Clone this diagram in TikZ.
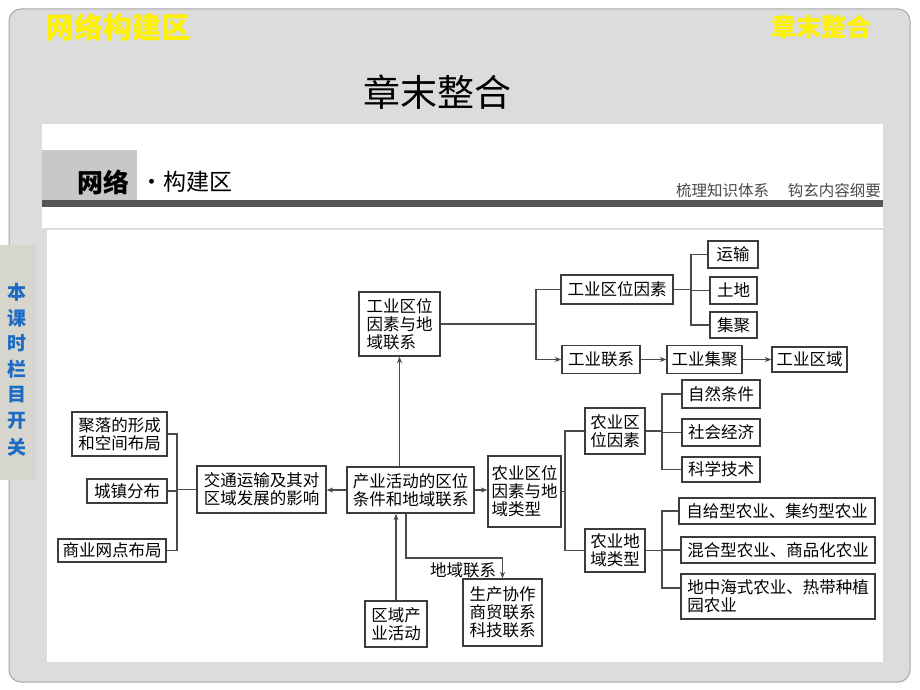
\documentclass[tikz,border=0pt]{standalone}
\usepackage{fontspec}
\setmainfont{Noto Sans CJK SC}
\usetikzlibrary{arrows.meta}
\definecolor{slidebg}{HTML}{DCDCDC}
\definecolor{slideedge}{HTML}{A8A8A8}
\definecolor{tabbg}{HTML}{D6D6CE}
\definecolor{tabtext}{HTML}{1E6BC4}
\definecolor{hdrbox}{HTML}{C8C8C8}
\definecolor{hdrbar}{HTML}{555555}
\definecolor{boxline}{HTML}{3C3C3C}
\definecolor{connline}{HTML}{4A4A4A}
\definecolor{hdrgray}{HTML}{4A4A4A}
\begin{document}
\begin{tikzpicture}[x=1pt,y=-1pt,
  box/.style={draw=boxline, line width=1.3pt, fill=white, inner sep=0pt, align=left,
    font=\fontsize{16.5}{18}\selectfont},
  conn/.style={draw=connline, line width=1.3pt},
  arr/.style={conn, -{Stealth[length=6.5pt,width=5pt]}},
  tabtxt/.style={text=tabtext, font=\fontsize{19}{19}\bfseries\selectfont, inner sep=0pt},
  plain/.style={inner sep=0pt}]
\useasboundingbox (0,0) rectangle (920,690);
% background
\fill[white] (0,0) rectangle (920,690);
\fill[slidebg, draw=slideedge, line width=1pt, rounded corners=12pt] (9,9) rectangle (910,682);
% white panels
\fill[white] (42,124) rectangle (883,228);
\fill[white] (47,230) rectangle (883,662);
\fill[hdrbox] (42,150) rectangle (137,200);
\fill[hdrbar] (42,200) rectangle (883,206.5);
% left tab
\fill[tabbg] (0,245) rectangle (36,480);
\node[tabtxt] (t1) at (17,292) {本};
\node[tabtxt] (t2) at (17,318) {课};
\node[tabtxt] (t3) at (17,343) {时};
\node[tabtxt] (t4) at (17,369) {栏};
\node[tabtxt] (t5) at (17,395) {目};
\node[tabtxt] (t6) at (17,421) {开};
\node[tabtxt] (t7) at (17,447) {关};
% header texts
\node[plain, text=yellow, font=\fontsize{29}{29}\bfseries\selectfont] (hl) at (118,27) {网络构建区};
\node[plain, text=yellow, font=\fontsize{25}{25}\bfseries\selectfont] (hr) at (821,27) {章末整合};
\node[plain, font=\fontsize{37}{37}\selectfont] (title) at (437.5,92.5) {章末整合};
\node[plain, font=\fontsize{26}{26}\bfseries\selectfont] (wl) at (103,182) {网络};
\node[plain, font=\fontsize{23}{23}\selectfont, anchor=west] (gj) at (140,182) {·构建区};
\node[plain, text=hdrgray, font=\fontsize{15.5}{16}\selectfont, anchor=east] (sub) at (881,191) {梳理知识体系\hspace{1.2em}钩玄内容纲要};
% industry
\node[box, minimum width=81pt, minimum height=64pt] (gy) at (399.5,324) {工业区位\\因素与地\\域联系};
\node[box, minimum width=112pt, minimum height=29pt] (gyqw) at (617,289.5) {工业区位因素};
\node[box, minimum width=50pt, minimum height=27pt] (ys) at (733,254.5) {运输};
\node[box, minimum width=47pt, minimum height=27pt] (td) at (733.5,290.5) {土地};
\node[box, minimum width=47pt, minimum height=26pt] (jj) at (733.5,325) {集聚};
\node[box, minimum width=78pt, minimum height=28pt] (gylx) at (601,359.5) {工业联系};
\node[box, minimum width=75pt, minimum height=28pt] (gyjj) at (704.5,359.5) {工业集聚};
\node[box, minimum width=75pt, minimum height=25pt] (gyqy) at (809.5,359.5) {工业区域};
% agriculture
\node[box, minimum width=73pt, minimum height=71pt] (nyb) at (524.5,491.5) {农业区位\\因素与地\\域类型};
\node[box, minimum width=60pt, minimum height=46pt] (nyqw) at (615,431) {农业区\\位因素};
\node[box, minimum width=60pt, minimum height=43pt] (nydy) at (615,550.5) {农业地\\域类型};
\node[box, minimum width=78pt, minimum height=28pt] (zr) at (721,394) {自然条件};
\node[box, minimum width=78pt, minimum height=27pt] (sh) at (721,432.5) {社会经济};
\node[box, minimum width=78pt, minimum height=25pt] (kx) at (721,469.5) {科学技术};
\node[box, minimum width=196pt, minimum height=26pt] (zj) at (777,511) {自给型农业、集约型农业};
\node[box, minimum width=194pt, minimum height=26pt] (hh) at (778,550) {混合型农业、商品化农业};
\node[box, minimum width=194pt, minimum height=45pt] (dz) at (778,596.5) {地中海式农业、热带种植\\园农业};
% centre and left
\node[box, minimum width=127pt, minimum height=46pt] (cy) at (410.5,490) {产业活动的区位\\条件和地域联系};
\node[box, minimum width=129pt, minimum height=47pt] (jt) at (261.5,489.5) {交通运输及其对\\区域发展的影响};
\node[box, minimum width=95pt, minimum height=44pt] (jl) at (119.5,434) {聚落的形成\\和空间布局};
\node[box, minimum width=80pt, minimum height=24pt] (cz) at (127,491) {城镇分布};
\node[box, minimum width=108pt, minimum height=23pt] (sy) at (112,550.5) {商业网点布局};
\node[box, minimum width=62pt, minimum height=46pt] (qy) at (396,624) {区域产\\业活动};
\node[box, minimum width=79pt, minimum height=67pt] (sc) at (502.5,612.5) {生产协作\\商贸联系\\科技联系};
\node[plain, font=\fontsize{16.5}{18}\selectfont] (dlbl) at (463,570) {地域联系};
% connectors: industry
\coordinate (b1) at (536,324);
\draw[conn] (gy.east) -- (b1);
\draw[conn] (b1) |- (gyqw.west);
\draw[arr] (b1) |- (gylx.west);
\coordinate (b2) at (691,289.5);
\draw[conn] (gyqw.east) -- (b2);
\draw[conn] (b2) |- (ys.west);
\draw[conn] (b2) |- (td.west);
\draw[conn] (b2) |- (jj.west);
\draw[arr] (gylx.east) -- (gyjj.west);
\draw[arr] (gyjj.east) -- (gyqy.west);
% connectors: centre
\draw[arr] (cy.north -| gy.south) -- (gy.south);
\draw[arr] (cy.east) -- (cy.east -| nyb.west);
\draw[arr] (cy.west) -- (cy.west -| jt.east);
\draw[arr] (qy.north) -- (qy.north |- cy.south);
\coordinate (dl) at (406,558);
\draw[arr] (cy.south -| dl) -- (dl) -| (sc.north);
% connectors: left
\coordinate (b3) at (177,489.5);
\draw[conn] (jt.west) -- (b3);
\draw[conn] (b3) |- (jl.east);
\draw[conn] (b3) |- (cz.east);
\draw[conn] (b3) |- (sy.east);
% connectors: agriculture
\coordinate (b4) at (565,491.5);
\draw[conn] (nyb.east) -- (b4);
\draw[conn] (b4) |- (nyqw.west);
\draw[conn] (b4) |- (nydy.west);
\coordinate (b5) at (662,431);
\draw[conn] (nyqw.east) -- (b5);
\draw[conn] (b5) |- (zr.west);
\draw[conn] (b5) |- (sh.west);
\draw[conn] (b5) |- (kx.west);
\coordinate (b6) at (662,550.5);
\draw[conn] (nydy.east) -- (b6);
\draw[conn] (b6) |- (zj.west);
\draw[conn] (b6) |- (hh.west);
\draw[conn] (b6) |- ([yshift=8.5pt]dz.west);
\end{tikzpicture}
\end{document}
